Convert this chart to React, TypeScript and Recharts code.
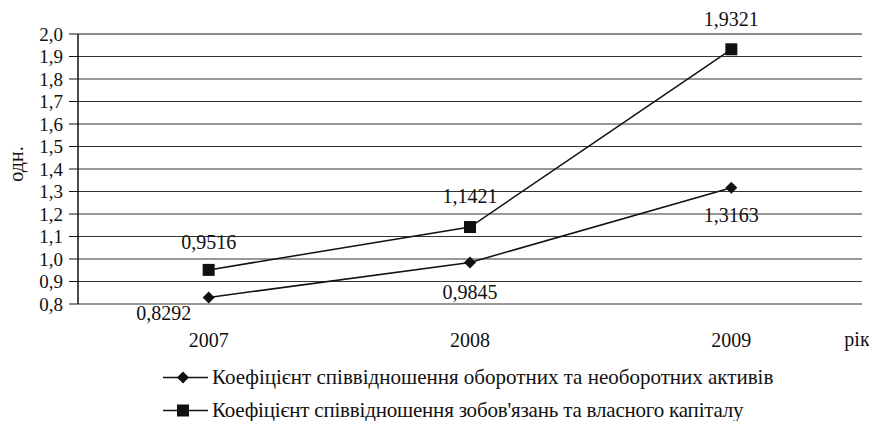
import React from 'react';
import { LineChart, Line, XAxis, YAxis, CartesianGrid, LabelList, Legend, ReferenceLine } from 'recharts';

const years = ['2007', '2008', '2009'];
const assetsRatio = [0.8292, 0.9845, 1.3163];
const debtEquityRatio = [0.9516, 1.1421, 1.9321];
const yTicks = [0.8, 0.9, 1.0, 1.1, 1.2, 1.3, 1.4, 1.5, 1.6, 1.7, 1.8, 1.9, 2.0];
const categoryBounds = [0, 1, 2, 3];
const categoryCenters = [0.5, 1.5, 2.5];
const seriesNames = [
  'Коефіцієнт співвідношення оборотних та необоротних активів',
  "Коефіцієнт співвідношення зобов'язань та власного капіталу",
];
const yAxisTitle = 'одн.';
const xAxisTitle = 'рік';

const data = years.map((year, i) => ({
  pos: categoryCenters[i],
  year,
  assets: assetsRatio[i],
  debt: debtEquityRatio[i],
}));

const FONT = '"Liberation Serif", "Times New Roman", serif';
const INK = '#111';
const comma = (s: string) => s.replace('.', ',');

// label offsets (styling)
const assetsLabelShift = [
  { dx: -45, dy: 16 },
  { dx: 0, dy: 30 },
  { dx: 0, dy: 27 },
];
const debtLabelShift = [
  { dx: 0, dy: -28 },
  { dx: 0, dy: -31 },
  { dx: 0, dy: -30 },
];

const makeLabel = (shifts: { dx: number; dy: number }[]) => (props: any) => {
  const { x, y, value, index } = props;
  const s = shifts[index] || { dx: 0, dy: 0 };
  return (
    <text
      x={x + s.dx}
      y={y + s.dy}
      textAnchor="middle"
      dominantBaseline="central"
      fontFamily={FONT}
      fontSize={20}
      fill={INK}
    >
      {comma(Number(value).toFixed(4))}
    </text>
  );
};

const Diamond = (props: any) => {
  const { cx, cy, index } = props;
  const r = 6;
  return (
    <polygon
      key={`d-${index}`}
      points={`${cx},${cy - r} ${cx + r},${cy} ${cx},${cy + r} ${cx - r},${cy}`}
      fill={INK}
    />
  );
};

const Square = (props: any) => {
  const { cx, cy, index } = props;
  const r = 6;
  return <rect key={`s-${index}`} x={cx - r} y={cy - r} width={2 * r} height={2 * r} fill={INK} />;
};

const legendSpacing = [0, -0.2];

const LegendContent = () => (
  <div style={{ fontFamily: FONT, fontSize: 21, color: INK }}>
    {seriesNames.map((name, i) => (
      <div key={name} style={{ display: 'flex', alignItems: 'center', height: 33, whiteSpace: 'nowrap' }}>
        <svg width={52} height={33} style={{ flex: 'none' }}>
          <line x1={3} y1={16.5} x2={48} y2={16.5} stroke={INK} strokeWidth={1.5} />
          {i === 0 ? (
            <polygon points="23,10.5 29,16.5 23,22.5 17,16.5" fill={INK} />
          ) : (
            <rect x={17} y={10.5} width={12} height={12} fill={INK} />
          )}
        </svg>
        <span style={{ letterSpacing: legendSpacing[i] }}>{name}</span>
      </div>
    ))}
  </div>
);

export default function App() {
  return (
    <div style={{ position: 'absolute', left: 0, top: 0, width: 869, height: 421, background: '#fff' }}>
      <LineChart
        width={869}
        height={421}
        data={data}
        margin={{ top: 34, right: 7, left: 0, bottom: 6 }}
      >
        <CartesianGrid horizontal vertical={false} stroke="#333" strokeWidth={1} />
        <XAxis
          dataKey="pos"
          type="number"
          domain={[0, 3]}
          ticks={categoryBounds}
          interval={0}
          tickFormatter={() => ''}
          height={0}
          tickSize={6}
          axisLine={{ stroke: INK, strokeWidth: 1.2 }}
          tickLine={{ stroke: INK }}
        />
        <XAxis
          xAxisId="years"
          dataKey="pos"
          type="number"
          domain={[0, 3]}
          ticks={categoryCenters}
          interval={0}
          tickFormatter={(v: number) => years[Math.floor(v)]}
          height={45}
          axisLine={false}
          tickLine={false}
          tickSize={0}
          tickMargin={29}
          tick={{ fontFamily: FONT, fontSize: 20, fill: INK }}
          label={{
            content: () => (
              <text x={857} y={339} textAnchor="middle" dominantBaseline="central" fontFamily={FONT} fontSize={20} fill={INK}>
                {xAxisTitle}
              </text>
            ),
          }}
        />
        <YAxis
          type="number"
          domain={[0.8, 2.0]}
          ticks={yTicks}
          interval={0}
          width={78}
          tickSize={9}
          tickMargin={6}
          tickFormatter={(v: number) => comma(v.toFixed(1))}
          tick={{ fontFamily: FONT, fontSize: 19, fill: INK }}
          axisLine={{ stroke: INK, strokeWidth: 1.5 }}
          tickLine={{ stroke: INK }}
          label={{
            content: () => (
              <text
                x={16}
                y={164}
                transform="rotate(-90 16 164)"
                textAnchor="middle"
                dominantBaseline="central"
                fontFamily={FONT}
                fontSize={20}
                fill={INK}
              >
                {yAxisTitle}
              </text>
            ),
          }}
        />
        <YAxis
          yAxisId="right"
          orientation="right"
          type="number"
          domain={[0.8, 2.0]}
          width={0}
          tick={false}
          tickLine={false}
          axisLine={{ stroke: '#888', strokeWidth: 1.5 }}
        />
        <ReferenceLine y={2.0} stroke="#888" strokeWidth={1.5} />
        <Line
          dataKey="assets"
          name={seriesNames[0]}
          stroke={INK}
          strokeWidth={1.5}
          dot={Diamond}
          activeDot={false}
          isAnimationActive={false}
        >
          <LabelList dataKey="assets" content={makeLabel(assetsLabelShift)} />
        </Line>
        <Line
          dataKey="debt"
          name={seriesNames[1]}
          stroke={INK}
          strokeWidth={1.5}
          dot={Square}
          activeDot={false}
          isAnimationActive={false}
        >
          <LabelList dataKey="debt" content={makeLabel(debtLabelShift)} />
        </Line>
        <Legend
          layout="vertical"
          align="center"
          verticalAlign="bottom"
          content={LegendContent}
          wrapperStyle={{ left: 160, top: 361, bottom: 'auto', width: 'auto' }}
        />
      </LineChart>
    </div>
  );
}
